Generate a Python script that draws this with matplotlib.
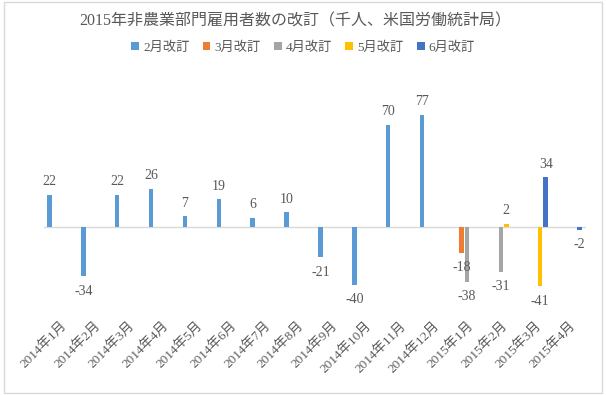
import matplotlib
matplotlib.use('Agg')
import matplotlib.pyplot as plt
from matplotlib.patches import Rectangle
import numpy as np

months = ['2014年1月', '2014年2月', '2014年3月', '2014年4月', '2014年5月', '2014年6月',
          '2014年7月', '2014年8月', '2014年9月', '2014年10月', '2014年11月', '2014年12月',
          '2015年1月', '2015年2月', '2015年3月', '2015年4月']
series_names = ['2月改訂', '3月改訂', '4月改訂', '5月改訂', '6月改訂']
rev_feb = [22, -34, 22, 26, 7, 19, 6, 10, -21, -40, 70, 77, None, None, None, None]
rev_mar = [None] * 12 + [-18, None, None, None]
rev_apr = [None] * 12 + [-38, -31, None, None]
rev_may = [None] * 13 + [2, -41, None]
rev_jun = [None] * 14 + [34, -2]
colors = ['#5B9BD5', '#ED7D31', '#A5A5A5', '#FFC000', '#4472C4']

plt.rcParams['font.family'] = ['Liberation Serif', 'Noto Sans CJK JP']
txt = '#595959'

fig = plt.figure(figsize=(6.06, 3.95), dpi=100)
fig.patches.append(Rectangle((0.006, 0.006), 0.988, 0.988, transform=fig.transFigure,
                             fill=False, edgecolor='#d9d9d9', lw=1))
ax = fig.add_axes([43.5 / 606, 0.2056, 542 / 606, 0.5147])

x = np.arange(len(months))
step = 0.163
width = 0.133
all_series = [rev_feb, rev_mar, rev_apr, rev_may, rev_jun]
for i, (vals, name, col) in enumerate(zip(all_series, series_names, colors)):
    pos = x + (i - 2) * step
    xs = [p for p, v in zip(pos, vals) if v is not None]
    ys = [v for v in vals if v is not None]
    ax.bar(xs, ys, width=width, color=col, label=name, zorder=3)
    for px, v in zip(xs, ys):
        off = 9.4 if v >= 0 else -10.8
        ax.annotate(str(v), (px, v), xytext=(0, off), textcoords='offset points',
                    ha='center', va='center', fontsize=10, color=txt,
                    annotation_clip=False, zorder=5)

ax.axhline(0, color='#d9d9d9', lw=1, zorder=2)
ax.set_xlim(-0.5, len(months) - 0.5)
ax.set_ylim(-60, 80)
ax.set_yticks([])
ax.set_xticks(x)
ax.set_xticklabels(months, rotation=45, ha='right', rotation_mode='anchor',
                   fontsize=9.5, color=txt)
ax.tick_params(axis='x', length=0, pad=4)
for s in ax.spines.values():
    s.set_visible(False)

fig.text(0.487, 0.945, '2015年非農業部門雇用者数の改訂（千人、米国労働統計局）',
         ha='center', va='center', fontsize=11.5, color=txt)
fig.legend(loc='center', bbox_to_anchor=(0.5, 0.88), ncol=5, frameon=False,
           fontsize=9.5, handlelength=0.6, handleheight=0.6, handletextpad=0.3,
           columnspacing=1.0, labelcolor=txt)

fig.savefig('out.png', dpi=100)
